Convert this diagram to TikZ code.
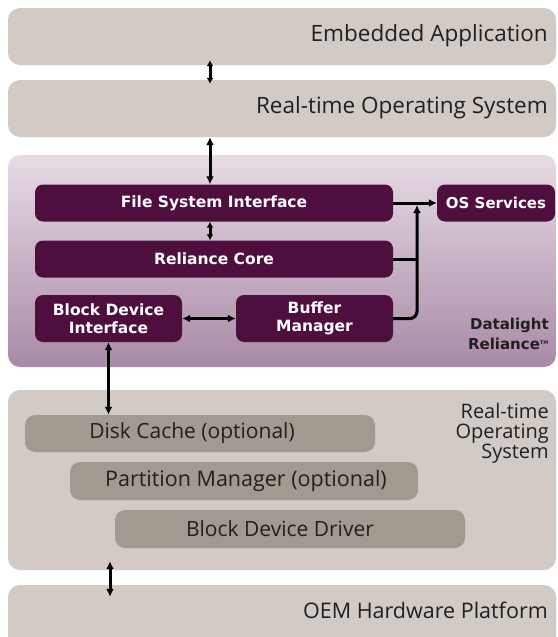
\documentclass[tikz,border=0pt]{standalone}
\usepackage{fontspec}
\setmainfont{Open Sans}
\newfontfamily\boxfont{DejaVu Sans}
\newfontfamily\brandfont{DejaVu Sans}
\usetikzlibrary{arrows.meta}
\definecolor{layergray}{HTML}{D2CBC5}
\definecolor{taupe}{HTML}{A29A90}
\definecolor{plum}{HTML}{4E0F3E}
\definecolor{mauvetop}{HTML}{E6DCE5}
\definecolor{mauvebot}{HTML}{A98AA6}
\definecolor{graytext}{HTML}{202020}
\tikzset{
  layer/.style={fill=layergray, rounded corners=12pt, inner sep=0pt},
  subbox/.style={fill=taupe, rounded corners=10pt, inner sep=0pt, font=\fontsize{21}{22}\selectfont, text=graytext},
  plumbox/.style={fill=plum, rounded corners=8pt, inner sep=0pt, text=white, font=\boxfont\bfseries\fontsize{15.5}{17.5}\selectfont, align=center},
  layertext/.style={anchor=east, inner sep=0pt, font=\fontsize{22.5}{24}\selectfont, text=graytext, align=right},
  dbl/.style={{Latex[length=8pt,width=8pt]}-{Latex[length=8pt,width=8pt]}, line width=3pt},
  dblsmall/.style={{Latex[length=6pt,width=7pt]}-{Latex[length=6pt,width=7pt]}, line width=3pt},
  one/.style={-{Latex[length=8pt,width=8pt]}, line width=3pt},
  link/.style={line width=3pt}
}
\begin{document}
\begin{tikzpicture}[x=1pt,y=-1pt]
\useasboundingbox (0,0) rectangle (557,637);
% layers
\node[layer, minimum width=548pt, minimum height=57pt] (emb) at (282,36.5) {};
\node[layertext] (embt) at (548,36) {Embedded Application};
\node[layer, minimum width=548pt, minimum height=57pt] (rtos) at (282,108.5) {};
\node[layertext] (rtost) at (548,108) {Real-time Operating System};
% reliance block
\node[rounded corners=12pt, top color=mauvetop, bottom color=mauvebot, minimum width=548pt, minimum height=212pt, inner sep=0pt] (rel) at (282,261) {};
\node[plumbox, minimum width=358pt, minimum height=37pt] (fsi) at (214,203) {File System Interface};
\node[plumbox, minimum width=358pt, minimum height=37pt] (rc) at (214,259) {Reliance Core};
\node[plumbox, minimum width=147pt, minimum height=47pt] (bdi) at (108.5,318.5) {Block Device\\Interface};
\node[plumbox, minimum width=157pt, minimum height=47pt] (bm) at (314.5,318.5) {Buffer\\Manager};
\node[plumbox, minimum width=118pt, minimum height=37pt, font=\boxfont\bfseries\fontsize{15}{17}\selectfont] (os) at (496,203) {OS Services};
\node[anchor=east, inner sep=0pt, align=right, font=\brandfont\bfseries\fontsize{15}{20}\selectfont, text=graytext] (brand) at (549,334) {Datalight\\Reliance\textsuperscript{\tiny TM}};
% lower rtos
\node[layer, minimum width=548pt, minimum height=180pt] (rtos2) at (282,480) {};
\node[anchor=north east, inner sep=0pt, align=right, font=\fontsize{20}{20}\selectfont, text=graytext] (rtos2t) at (549,403) {Real-time\\Operating\\System};
\node[subbox, minimum width=350pt, minimum height=37pt] (dc) at (200,433.5) {};
\node[inner sep=0pt, font=\fontsize{21}{22}\selectfont, text=graytext] (dct) at (192,433.5) {Disk Cache (optional)};
\node[subbox, minimum width=348pt, minimum height=38pt] (pm) at (244,481) {};
\node[inner sep=0pt, font=\fontsize{21.5}{22}\selectfont, text=graytext] (pmt) at (246,481) {Partition Manager (optional)};
\node[subbox, minimum width=350pt, minimum height=38pt] (bdd) at (290,529) {};
\node[inner sep=0pt, font=\fontsize{21}{22}\selectfont, text=graytext] (bddt) at (280,529) {Block Device Driver};
\node[layer, minimum width=548pt, minimum height=64pt] (oem) at (282,617) {};
\node[layertext, font=\fontsize{21.5}{23}\selectfont] (oemt) at (548,610) {OEM Hardware Platform};
% connector columns
\coordinate (ax) at (210,0);
\coordinate (jx) at (417,0);
\coordinate (hx) at (110,0);
% connectors
\draw[dblsmall] ([yshift=5pt]emb.south -| ax) -- ([yshift=-4pt]rtos.north -| ax);
\draw[dbl] (rtos.south -| ax) -- (fsi.north -| ax);
\draw[dblsmall] (fsi.south -| ax) -- (rc.north -| ax);
\draw[dbl] (bdi.east) -- (bm.west);
\draw[one] (fsi.east) -- (os.west);
\draw[link] (rc.east) -- (jx |- rc.east);
\draw[one, rounded corners=7pt] (bm.east) -| ([yshift=-2pt]jx |- fsi.east);
\draw[dbl] (bdi.south) -- (bdi.south |- dc.north);
\draw[dbl] ([yshift=9pt]rtos2.south -| hx) -- ([yshift=-12pt]oem.north -| hx);
\end{tikzpicture}
\end{document}
